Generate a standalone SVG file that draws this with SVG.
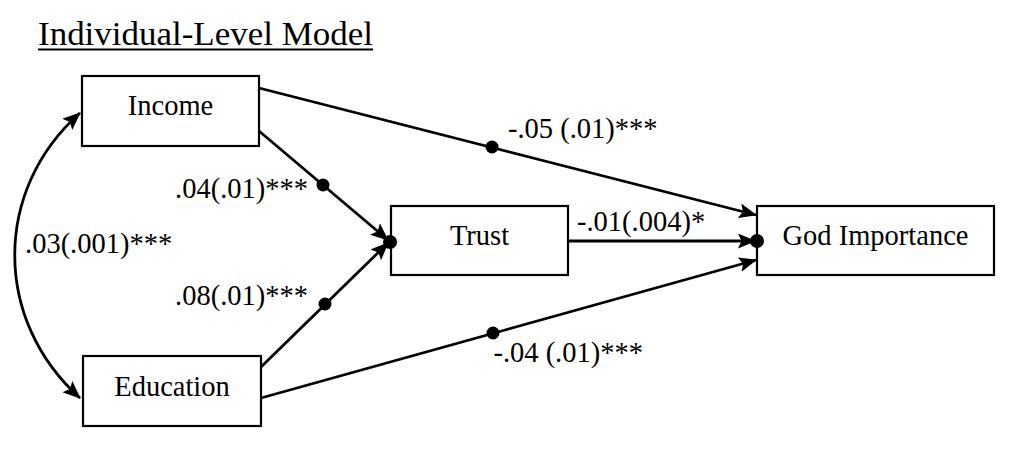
<svg xmlns="http://www.w3.org/2000/svg" width="1018" height="454" viewBox="0 0 1018 454">
<style>
.box{fill:#fff;stroke:#000;stroke-width:2.2}
.lbl{font-family:"Liberation Serif","Times New Roman",serif;font-size:28.5px;fill:#000}
.ctr{text-anchor:middle}
.end{text-anchor:end}
.edge{fill:none;stroke:#000;stroke-width:2.8}
.dot{fill:#000}
</style>
<defs>
<marker id="ah" viewBox="0 0 18 15" refX="17" refY="7.5" markerWidth="18" markerHeight="15" markerUnits="userSpaceOnUse" orient="auto-start-reverse">
<path d="M0,0 L18,7.5 L0,15 L3.5,7.5 z" fill="#000"/>
</marker>
</defs>
<rect width="1018" height="454" fill="#fff"/>
<g id="title">
<text x="38" y="45" style="font-family:'Liberation Serif','Times New Roman',serif;font-size:34px" textLength="335" lengthAdjust="spacingAndGlyphs">Individual-Level Model</text>
<line x1="38" y1="49.5" x2="373" y2="49.5" stroke="#000" stroke-width="2"/>
</g>
<g id="connectors">
<path class="edge" d="M80,113 C-7,190 -7,320 80,398" marker-start="url(#ah)" marker-end="url(#ah)"/>
<line class="edge" x1="259" y1="88" x2="756" y2="215" marker-end="url(#ah)"/>
<circle class="dot" cx="492" cy="147" r="6.5"/>
<line class="edge" x1="259" y1="131" x2="388" y2="240" marker-end="url(#ah)"/>
<circle class="dot" cx="323" cy="185" r="6.5"/>
<line class="edge" x1="261" y1="367" x2="388" y2="243" marker-end="url(#ah)"/>
<circle class="dot" cx="325" cy="304" r="6.5"/>
<line class="edge" x1="261" y1="398" x2="756" y2="260" marker-end="url(#ah)"/>
<circle class="dot" cx="493" cy="333" r="6.5"/>
<line class="edge" x1="568" y1="241" x2="755" y2="241" marker-end="url(#ah)"/>
<text class="lbl" x="25" y="253">.03(.001)***</text>
<text class="lbl end" x="308" y="198">.04(.01)***</text>
<text class="lbl end" x="308" y="305">.08(.01)***</text>
<text class="lbl" x="508" y="138">-.05 (.01)***</text>
<text class="lbl" x="577" y="231">-.01(.004)*</text>
<text class="lbl end" x="643" y="362">-.04 (.01)***</text>
</g>
<g id="income">
<rect class="box" x="82" y="76" width="177" height="70"/>
<text class="lbl ctr" x="170.5" y="115">Income</text>
</g>
<g id="education">
<rect class="box" x="83" y="356" width="178" height="70"/>
<text class="lbl ctr" x="172" y="396">Education</text>
</g>
<g id="trust">
<rect class="box" x="391" y="206" width="177" height="69"/>
<text class="lbl ctr" x="479.5" y="245">Trust</text>
<circle class="dot" cx="390" cy="242" r="7"/>
</g>
<g id="god">
<rect class="box" x="757" y="206" width="237" height="69"/>
<text class="lbl ctr" x="875.5" y="245">God Importance</text>
<circle class="dot" cx="757" cy="241" r="7"/>
</g>
</svg>
